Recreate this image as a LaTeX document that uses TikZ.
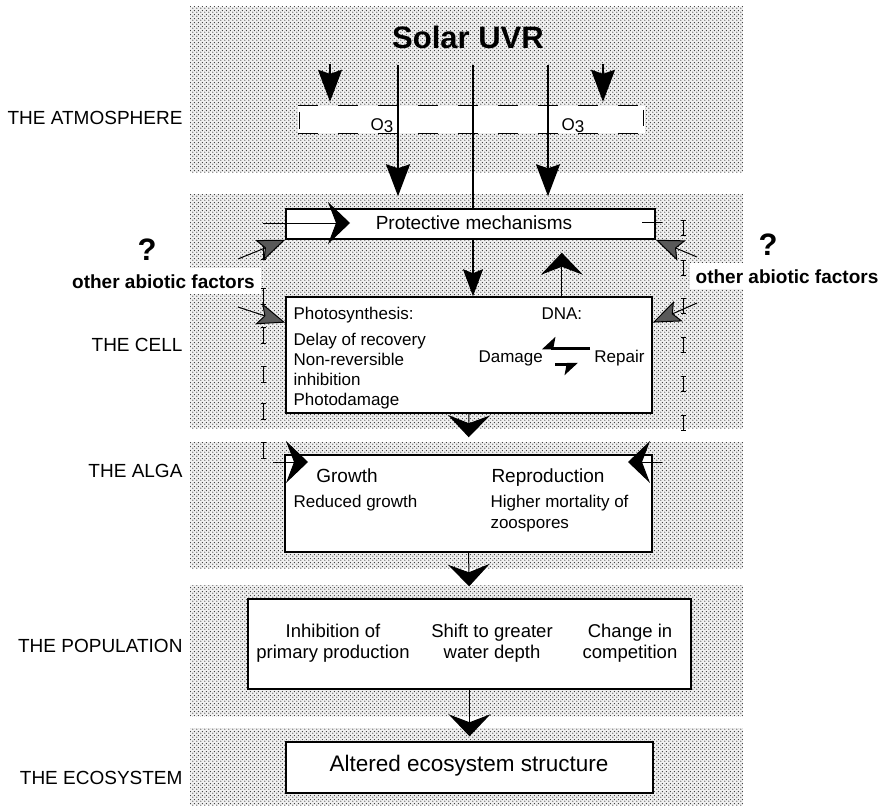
\documentclass[tikz,border=0pt]{standalone}
\usepackage{fontspec}
\setmainfont{Liberation Sans}
\usetikzlibrary{arrows.meta,patterns.meta}
\newcommand{\fsz}[1]{\fontsize{#1}{#1}\selectfont}
\tikzdeclarepattern{name=screen,type=uncolored,
	bounding box={(0pt,0pt) and (4pt,4pt)},tile size={(4pt,4pt)},
	code={\fill (1pt,1pt) circle (.75pt); \fill (3pt,3pt) circle (.75pt);}}

\begin{document}
\begin{tikzpicture}[x=1pt,y=-1pt,
		band/.style={fill=black!6,postaction={pattern=screen,pattern color=black!80}},
		box/.style={draw,line width=1.5pt,fill=white,inner sep=0pt},
		lvl/.style={anchor=base east,font=\fsz{19}},
		hd/.style={anchor=base,font=\fsz{19}},
		txt/.style={anchor=base west,font=\fsz{17}},
		ctr/.style={anchor=base,font=\fsz{18.5}},
		abt/.style={anchor=base,font=\bfseries\fsz{19},fill=white,inner sep=6pt},
		qm/.style={anchor=base,font=\bfseries\fsz{31}},
		ray/.style={line width=1.6pt,-{Stealth[length=32pt,width=24pt,inset=4pt]}},
		cray/.style={line width=1.6pt,-{Stealth[length=27pt,width=20pt,inset=4pt]}},
		flow/.style={line width=1pt,-{Stealth[length=22pt,width=42pt,inset=8pt]}},
		abio/.style={line width=1pt,-{Stealth[length=28pt,width=22pt,inset=6pt,fill=black!65]}},
		tick/.style={line width=.8pt,{Bar[width=5pt]}-{Bar[width=5pt]}},
		ozd/.style={line width=1.3pt,dash pattern=on 20pt off 20pt},
		dna/.style={line width=3pt,-{Stealth[harpoon,swap,length=12pt,width=22pt,inset=2pt]}}]
		\useasboundingbox (0,0) rectangle (882,805);
		
		% levels
		\fill[band] (190,7) rectangle (743,172);
		\fill[band] (190,194) rectangle (743,428);
		\fill[band] (190,442) rectangle (743,568);
		\fill[band] (190,585) rectangle (743,716);
		\fill[band] (190,728) rectangle (743,805);
		
		\node[lvl] (lblatm)at(186,125) {THE ATMOSPHERE};
		\node[lvl] (lblcel)at(186,351) {THE CELL};
		\node[lvl] (lblalg)at(186,477) {THE ALGA};
		\node[lvl] (lblpop)at(186,652) {THE POPULATION};
		\node[lvl] (lbleco)at(186,784) {THE ECOSYSTEM};
		
		\node[font=\bfseries\fsz{31},anchor=base] (uvr)at(468,49) {Solar UVR};
		
		% ozone layer
		\node[fill=white,minimum width=347pt,minimum height=27pt,inner sep=0pt] (ozone)at(471.5,119.5) {};
		\draw[ozd] (ozone.north west) -- (ozone.north east);
		\draw[ozd] (ozone.south west) -- (ozone.south east);
		\draw[line width=1pt] (299,112) -- (299,129);
		\draw[line width=1pt] (643,110) -- (643,126);
		\node[txt] (oz1)at(367,131) {O\raisebox{-2pt}{3}};
		\node[txt] (oz2)at(558,131) {O\raisebox{-2pt}{3}};
		
		% boxes
		\node[box,minimum width=369pt,minimum height=30pt] (protbox)at(470.5,224) {};
		\node[box,minimum width=366pt,minimum height=116pt] (cellbox)at(469,355) {};
		\node[box,minimum width=367pt,minimum height=97pt] (algabox)at(468.5,503.5) {};
		\node[box,minimum width=443pt,minimum height=90pt] (popbox)at(469.5,644) {};
		\node[box,minimum width=367pt,minimum height=51pt] (ecobox)at(469.5,767.5) {};
		
		\node[hd] (protT)at(474,229) {Protective mechanisms};
		\node[txt] (phoT)at(290,319) {Photosynthesis:};
		\node[txt] (dnaT)at(538,319) {DNA:};
		\node[txt] (ps1)at(290,345) {Delay of recovery};
		\node[txt] (ps2)at(290,365) {Non-reversible};
		\node[txt] (ps3)at(290,385) {inhibition};
		\node[txt] (ps4)at(290,405) {Photodamage};
		\node[txt] (dam)at(475,362) {Damage};
		\node[txt,anchor=base east] (rep)at(648,362) {Repair};
		\node[hd] (gro)at(347,482) {Growth};
		\node[hd] (repro)at(548,482) {Reproduction};
		\node[txt] (gr1)at(290,507) {Reduced growth};
		\node[txt] (rp1)at(487,507) {Higher mortality of};
		\node[txt] (rp2)at(487,528) {zoospores};
		\node[ctr] (in1)at(333,637) {Inhibition of};
		\node[ctr] (in2)at(333,658) {primary production};
		\node[ctr] (sh1)at(492,637) {Shift to greater};
		\node[ctr] (sh2)at(492,658) {water depth};
		\node[ctr] (ch1)at(630,637) {Change in};
		\node[ctr] (ch2)at(630,658) {competition};
		\node[anchor=base,font=\fsz{22.5}] (alt)at(469,771) {Altered ecosystem structure};
		
		\node[qm] (qL)at(147,260) {?};
		\node[qm] (qR)at(768,255) {?};
		\node[abt] (abL)at(163.5,288) {other abiotic factors};
		\node[abt] (abR)at(787,283) {other abiotic factors};
		
		% radiation
		\coordinate (r1) at (330,64);
		\coordinate (r2) at (398,65);
		\coordinate (r3) at (473,65);
		\coordinate (r4) at (548,65);
		\coordinate (r5) at (603,64);
		\draw[ray,shorten >=4pt] (r1) -- (r1 |- ozone.north);
		\draw[ray,shorten >=4pt] (r5) -- (r5 |- ozone.north);
		\draw[ray,shorten >=12pt] (r2) -- (r2 |- protbox.north);
		\draw[ray,shorten >=12pt] (r4) -- (r4 |- protbox.north);
		\draw[line width=1.6pt] (r3) -- (r3 |- protbox.north);
		\draw[cray] (r3 |- protbox.south) -- (r3 |- cellbox.north);
		
		% DNA
		\coordinate (dh1) at (590,348);
		\coordinate (dh2) at (542,348);
		\coordinate (dh3) at (555,364);
		\coordinate (dh4) at (578,364);
		\draw[dna] (dh1) -- (dh2);
		\draw[dna] (dh3) -- (dh4);
		
		% effects between levels
		\draw[flow] (dnaT.north |- cellbox.north) -- ([yshift=-13pt]dnaT.north |- protbox.south);
		\draw[flow,shorten >=17pt] (cellbox.south) -- (algabox.north);
		\draw[flow,shorten >=12pt] (algabox.south) -- (popbox.north);
		\draw[flow,shorten >=5pt] (popbox.south) -- (ecobox.north);
		
		% other abiotic factors
		\foreach \y in {243,288,327,366,403,442} \draw[tick] (263,\y) -- ++(0,17);
		\foreach \y in {220,260,298,337,376,415} \draw[tick] (683,\y) -- ++(0,16);
		\coordinate (lp) at (263,223);
		\coordinate (la) at (273,462);
		\coordinate (ra) at (662,462);
		\draw[flow] (lp) -- ++(87,0);
		\draw[flow] (la) -- ++(35,0);
		\draw[flow] (ra) -- ++(-34,0);
		\draw[line width=1pt] (642,222) -- (662,222);
		\coordinate (aL1) at (238,259);
		\coordinate (aL2) at (238,307);
		\coordinate (aR1) at (697,257);
		\coordinate (aR2) at (697,303);
		\draw[abio] (aL1) -- (protbox.south west);
		\draw[abio] (aL2) -- (cellbox.170);
		\draw[abio] (aR1) -- (protbox.south east);
		\draw[abio] (aR2) -- (cellbox.10);
	\end{tikzpicture}
\end{document}
